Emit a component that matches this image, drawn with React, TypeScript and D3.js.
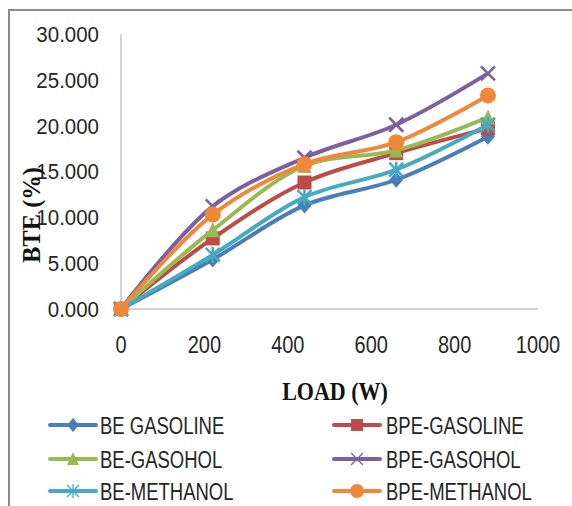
import React from 'react'
import * as d3 from 'd3'

const loads = [0, 220, 440, 660, 880]
const seriesNames = ['BE GASOLINE', 'BPE-GASOLINE', 'BE-GASOHOL', 'BPE-GASOHOL', 'BE-METHANOL', 'BPE-METHANOL']
const beGasoline = [0, 5.4, 11.3, 14.1, 18.8]
const bpeGasoline = [0, 7.7, 13.8, 17.0, 19.7]
const beGasohol = [0, 8.6, 15.6, 17.3, 20.9]
const bpeGasohol = [0, 11.2, 16.5, 20.1, 25.7]
const beMethanol = [0, 5.9, 12.2, 15.2, 20.1]
const bpeMethanol = [0, 10.3, 15.8, 18.2, 23.3]
const seriesValues = [beGasoline, bpeGasoline, beGasohol, bpeGasohol, beMethanol, bpeMethanol]
const colors = ['#4A7EBB', '#BE4B48', '#98B954', '#7D60A0', '#46AAC5', '#F0883A']
const markers = ['diamond', 'square', 'triangle', 'x', 'star', 'circle']
const yTicks = [0, 5, 10, 15, 20, 25, 30]
const xTicks = [0, 200, 400, 600, 800, 1000]

const SANS = 'Liberation Sans, Arial'
const SERIF = 'Liberation Serif, Times New Roman'

// text stretched vertically, like the original's tall narrow face
const Tall = ({ x, y, sy, anchor = 'start', size, family, bold, children }: any) => (
  <text
    transform={`translate(${x},${y}) scale(1,${sy})`}
    dy="0.35em"
    textAnchor={anchor}
    fontFamily={family}
    fontSize={size}
    fontWeight={bold ? 'bold' : 'normal'}
    fill={bold ? '#111' : '#262626'}
  >
    {children}
  </text>
)

const Marker = ({ kind, x, y, color, s = 1, thin = false }: { kind: string; x: number; y: number; color: string; s?: number; thin?: boolean }) => {
  const r = 7 * s
  if (kind === 'diamond') return <path d={`M${x},${y - r - 1}L${x + r},${y}L${x},${y + r + 1}L${x - r},${y}Z`} fill={color} />
  if (kind === 'square') return <rect x={x - r} y={y - r} width={2 * r} height={2 * r} fill={color} />
  if (kind === 'triangle') return <path d={`M${x},${y - r - 1}L${x + r},${y + r}L${x - r},${y + r}Z`} fill={color} />
  if (kind === 'circle') return <circle cx={x} cy={y} r={r + 1} fill={color} />
  const sw = thin ? 1.3 : 2.5
  if (kind === 'x')
    return <path d={`M${x - r},${y - r}L${x + r},${y + r}M${x - r},${y + r}L${x + r},${y - r}`} stroke={color} strokeWidth={sw} />
  // star / asterisk
  return (
    <path
      d={`M${x - r},${y - r}L${x + r},${y + r}M${x - r},${y + r}L${x + r},${y - r}M${x},${y - r - 1}L${x},${y + r + 1}`}
      stroke={color}
      strokeWidth={sw}
    />
  )
}

export default function App() {
  const width = 572
  const height = 506
  const x = d3.scaleLinear().domain([0, 1000]).range([121, 538])
  const y = d3.scaleLinear().domain([0, 30]).range([309, 34])

  const line = d3
    .line<number>()
    .x((d, i) => x(loads[i]))
    .y(d => y(d))
    .curve(d3.curveCatmullRom.alpha(0.5))

  const legendRows = [425, 459, 491]
  const legendCols = [{ lx: 50, tx: 100 }, { lx: 334, tx: 386 }]

  return (
    <svg width={width} height={height} style={{ position: 'absolute', left: 0, top: 0 }}>
      <rect x={0} y={0} width={width} height={height} fill="#fff" />
      {/* chart frame */}
      <path d={`M9,${height}L9,10L${width},10`} fill="none" stroke="#8c8c8c" strokeWidth={2} />

      {/* axes */}
      <line x1={x(0)} x2={x(0)} y1={y(30)} y2={y(0)} stroke="#a6a6a6" strokeWidth={1} />
      <line x1={x(0)} x2={x(1000)} y1={y(0)} y2={y(0)} stroke="#a6a6a6" strokeWidth={1} />

      {yTicks.map(t => (
        <Tall key={t} x={99} y={y(t)} sy={1.1} anchor="end" size={20.5} family={SANS}>
          {t.toFixed(3)}
        </Tall>
      ))}
      {xTicks.map(t => (
        <Tall key={t} x={x(t)} y={345} sy={1.15} anchor="middle" size={20} family={SANS}>
          {t}
        </Tall>
      ))}

      <Tall x={335} y={391} sy={1.17} anchor="middle" size={22} family={SERIF} bold>
        LOAD (W)
      </Tall>
      <text
        transform="translate(31,215) rotate(-90)"
        dy="0.35em"
        textAnchor="middle"
        fontFamily={SERIF}
        fontWeight="bold"
        fontSize={24.5}
        fill="#111"
      >
        BTE (%)
      </text>

      {/* series */}
      {seriesValues.map((vals, si) => (
        <g key={seriesNames[si]}>
          <path d={line(vals) || ''} fill="none" stroke={colors[si]} strokeWidth={4} />
          {vals.map((v, i) => (
            <Marker key={i} kind={markers[si]} x={x(loads[i])} y={y(v)} color={colors[si]} />
          ))}
        </g>
      ))}

      {/* legend */}
      {seriesNames.map((name, i) => {
        const row = legendRows[Math.floor(i / 2)]
        const col = legendCols[i % 2]
        return (
          <g key={name}>
            <line x1={col.lx} x2={col.lx + 46} y1={row} y2={row} stroke={colors[i]} strokeWidth={4} strokeLinecap="round" />
            <Marker kind={markers[i]} x={col.lx + 23} y={row} color={colors[i]} s={0.85} thin />
            <Tall x={col.tx} y={row + 1} sy={1.3} size={18.5} family={SANS}>
              {name}
            </Tall>
          </g>
        )
      })}
    </svg>
  )
}
